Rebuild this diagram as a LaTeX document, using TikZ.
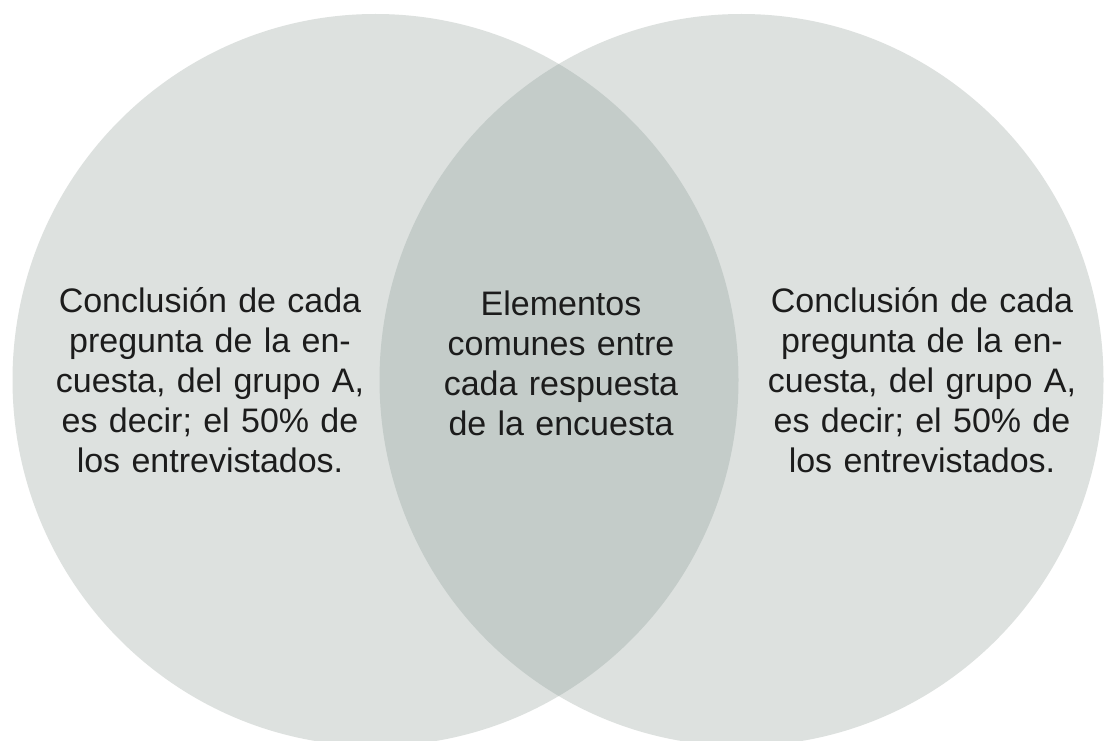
\documentclass[tikz,border=0pt]{standalone}
\usepackage{fontspec}
\setmainfont{Liberation Sans}
\definecolor{circfill}{HTML}{DDE1DF}
\definecolor{lensfill}{HTML}{C4CCC9}
\definecolor{txt}{HTML}{1C1C1C}
\begin{document}
\begin{tikzpicture}[x=1pt,y=-1pt,
  lbl/.style={inner sep=0pt, anchor=base, text width=340pt, align=center,
    text=txt, font=\fontsize{34}{40}\selectfont}]
\useasboundingbox (0,0) rectangle (1108,741);
\fill[white] (0,0) rectangle (1108,741);
\clip (0,0) rectangle (1108,741);
% circles
\fill[circfill] (375.5,380) ellipse [x radius=363, y radius=366];
\fill[circfill] (741.5,380) ellipse [x radius=362, y radius=366];
\begin{scope}
  \clip (375.5,380) ellipse [x radius=363, y radius=366];
  \fill[lensfill] (741.5,380) ellipse [x radius=362, y radius=366];
\end{scope}
% labels
\node[lbl] (left) at (210,312) {Conclusión de cada\\pregunta de la en-\\cuesta, del grupo A,\\es decir; el 50\% de\\los entrevistados.};
\node[lbl] (mid) at (561,315) {Elementos\\comunes entre\\cada respuesta\\de la encuesta};
\node[lbl] (right) at (922,312) {Conclusión de cada\\pregunta de la en-\\cuesta, del grupo A,\\es decir; el 50\% de\\los entrevistados.};
\end{tikzpicture}
\end{document}
